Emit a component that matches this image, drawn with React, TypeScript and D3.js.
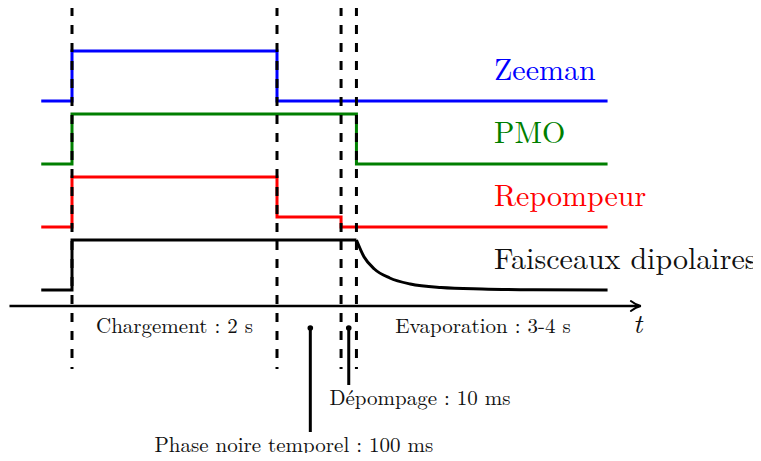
import { useEffect, useRef } from "react";
import * as d3 from "d3";

// Event times (arbitrary diagram units): start of loading, end of loading,
// end of dark phase, end of depumping
const eventTimes = [0, 4, 5.25, 5.55];
const tStart = -0.6;
const tEnd = 10.45;
const axisRange = [-1.22, 11.1];

const channels = ["Zeeman", "PMO", "Repompeur", "Faisceaux dipolaires"];
const channelColors = ["#0000ff", "#007f00", "#ff0000", "#000000"];

// step signals as [time, level]
const zeemanSteps: [number, number][] = [[tStart, 0], [0, 1], [4, 0], [tEnd, 0]];
const pmoSteps: [number, number][] = [[tStart, 0], [0, 1], [5.55, 0], [tEnd, 0]];
const repumpSteps: [number, number][] = [[tStart, 0], [0, 1], [4, 0.2], [5.25, 0], [tEnd, 0]];
const dipoleSteps: [number, number][] = [[tStart, 0], [0, 1], [5.55, 1]];
// evaporation ramp
const dipoleRamp: [number, number][] = [
  [5.55, 1], [5.7, 0.66], [5.9, 0.42], [6.2, 0.24], [6.6, 0.12],
  [7.2, 0.05], [8, 0.02], [9, 0.005], [tEnd, 0],
];

const phaseLabels = [
  { text: "Chargement : 2 s", t: 2 },
  { text: "Evaporation : 3-4 s", t: 8.02 },
];
const pointers = [
  { text: "Phase noire temporel : 100 ms", t: 4.65, len: 104, textT: 4.33 },
  { text: "Dépompage : 10 ms", t: 5.4, len: 57, textT: 6.79 },
];

const W = 761;
const H = 461;
const font = "'Latin Modern Roman', 'CMU Serif', 'Liberation Serif', serif";

export default function App() {
  const svgRef = useRef<SVGSVGElement>(null);

  useEffect(() => {
    if (!svgRef.current) return;
    const svg = d3.select(svgRef.current);
    svg.selectAll("*").remove();

    const x = d3.scaleLinear().domain([0, 4]).range([72, 277]);
    // baseline of each channel lane
    const lanes = d3.scalePoint<string>().domain(channels).range([101, 290]);
    const yLevel = (ch: string) => {
      const base = lanes(ch) ?? 0;
      return d3.scaleLinear().domain([0, 1]).range([base, base - 50]);
    };
    const axisY = 306;

    const stepLine = (ch: string) => {
      const y = yLevel(ch);
      return d3
        .line<[number, number]>()
        .x((d) => x(d[0]))
        .y((d) => y(d[1]))
        .curve(d3.curveStepAfter);
    };

    const series: [number, number][][] = [zeemanSteps, pmoSteps, repumpSteps, dipoleSteps];
    series.forEach((s, i) => {
      svg
        .append("path")
        .attr("d", stepLine(channels[i])(s))
        .attr("fill", "none")
        .attr("stroke", channelColors[i])
        .attr("stroke-width", 3)
        .attr("stroke-linejoin", "miter")
        .attr("stroke-linecap", "butt");
    });

    const yDip = yLevel(channels[3]);
    svg
      .append("path")
      .attr(
        "d",
        d3
          .line<[number, number]>()
          .x((d) => x(d[0]))
          .y((d) => yDip(d[1]))
          .curve(d3.curveMonotoneX)(dipoleRamp)
      )
      .attr("fill", "none")
      .attr("stroke", "#000")
      .attr("stroke-width", 3);

    // channel labels
    channels.forEach((ch, i) => {
      const y = yLevel(ch);
      svg
        .append("text")
        .attr("x", 494)
        .attr("y", y(0) - 21)
        .attr("fill", channelColors[i] === "#000000" ? "#111" : channelColors[i])
        .attr("font-family", font)
        .attr("font-size", 30)
        .text(ch);
    });

    // time axis
    svg
      .append("line")
      .attr("x1", x(axisRange[0]))
      .attr("x2", x(axisRange[1]) - 2)
      .attr("y1", axisY)
      .attr("y2", axisY)
      .attr("stroke", "#000")
      .attr("stroke-width", 2.6);
    const ax = x(axisRange[1]);
    svg
      .append("path")
      .attr("d", `M${ax - 10},${axisY - 5} Q${ax - 5},${axisY - 1} ${ax},${axisY} Q${ax - 5},${axisY + 1} ${ax - 10},${axisY + 5}`)
      .attr("fill", "none")
      .attr("stroke", "#000")
      .attr("stroke-width", 2)
      .attr("stroke-linecap", "round");
    svg
      .append("text")
      .attr("x", 633)
      .attr("y", 333)
      .attr("font-family", font)
      .attr("font-style", "italic")
      .attr("font-size", 28)
      .attr("fill", "#111")
      .text("t");

    // dashed event lines
    eventTimes.forEach((t) => {
      svg
        .append("line")
        .attr("x1", x(t))
        .attr("x2", x(t))
        .attr("y1", 7)
        .attr("y2", 369)
        .attr("stroke", "#000")
        .attr("stroke-width", 3)
        .attr("stroke-dasharray", "9,9");
    });

    phaseLabels.forEach((p) => {
      svg
        .append("text")
        .attr("x", x(p.t))
        .attr("y", 333)
        .attr("text-anchor", "middle")
        .attr("font-family", font)
        .attr("font-size", 21)
        .attr("fill", "#111")
        .text(p.text);
    });

    pointers.forEach((p) => {
      const px = x(p.t);
      const top = 328;
      svg.append("circle").attr("cx", px).attr("cy", top).attr("r", 2.8).attr("fill", "#000");
      svg
        .append("line")
        .attr("x1", px)
        .attr("x2", px)
        .attr("y1", top)
        .attr("y2", top + p.len)
        .attr("stroke", "#000")
        .attr("stroke-width", 3);
      svg
        .append("text")
        .attr("x", x(p.textT))
        .attr("y", top + p.len + 20)
        .attr("text-anchor", "middle")
        .attr("font-family", font)
        .attr("font-size", 21)
        .attr("fill", "#111")
        .text(p.text);
    });
  }, []);

  return (
    <div style={{ margin: -8, width: W, height: H, background: "#fff" }}>
      <svg ref={svgRef} width={W} height={H} style={{ display: "block" }} />
    </div>
  );
}
